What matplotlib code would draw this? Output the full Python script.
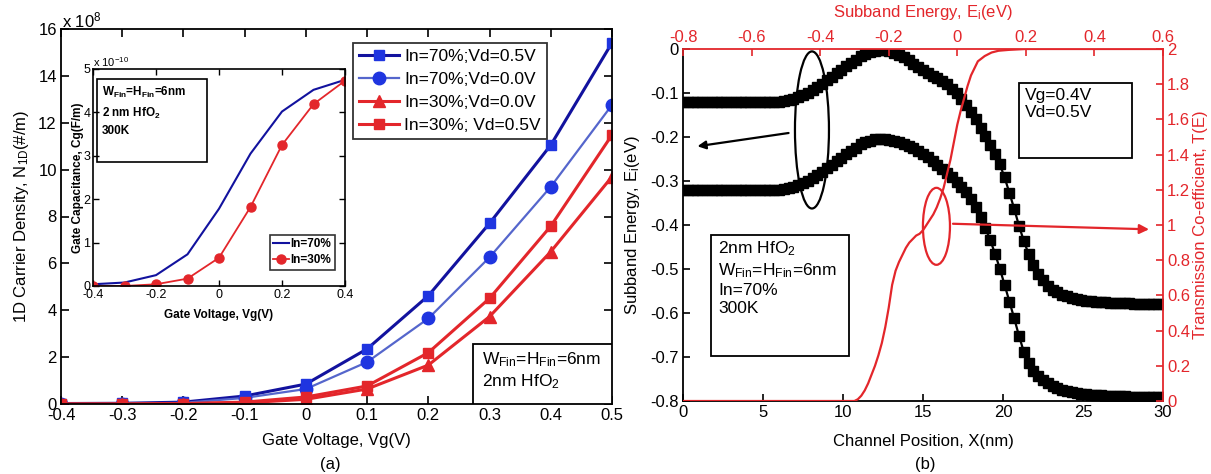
import numpy as np
import matplotlib
matplotlib.use('Agg')
import matplotlib.pyplot as plt
from matplotlib.patches import Ellipse, Rectangle

plt.rcParams['font.family'] = ['Liberation Sans', 'DejaVu Sans']
plt.rcParams['mathtext.fontset'] = 'custom'
plt.rcParams['mathtext.rm'] = 'Liberation Sans'
plt.rcParams['mathtext.it'] = 'Liberation Sans:italic'
plt.rcParams['mathtext.bf'] = 'Liberation Sans:bold'

# ---------------- (a) data ----------------
vg = [-0.4, -0.3, -0.2, -0.1, 0.0, 0.1, 0.2, 0.3, 0.4, 0.5]
n_in70_vd05 = [0.02, 0.03, 0.08, 0.34, 0.85, 2.35, 4.62, 7.71, 11.05, 15.41]
n_in70_vd00 = [0.01, 0.02, 0.05, 0.26, 0.64, 1.79, 3.65, 6.26, 9.27, 12.76]
n_in30_vd00 = [0.0, 0.0, 0.01, 0.05, 0.20, 0.64, 1.66, 3.73, 6.50, 9.70]
n_in30_vd05 = [0.0, 0.0, 0.02, 0.08, 0.30, 0.77, 2.19, 4.51, 7.59, 11.48]
labels_a = ['In=70%;Vd=0.5V', 'In=70%;Vd=0.0V', 'In=30%;Vd=0.0V', 'In=30%; Vd=0.5V']

# inset
vg_in = [-0.4, -0.3, -0.2, -0.1, 0.0, 0.1, 0.2, 0.3, 0.4]
cg_in70 = [0.04, 0.08, 0.25, 0.73, 1.78, 3.05, 4.02, 4.52, 4.75]
cg_in30 = [0.0, 0.0, 0.04, 0.17, 0.65, 1.82, 3.25, 4.19, 4.73]

# ---------------- (b) data ----------------
xpos = np.round(np.arange(101) * 0.3, 1)
e_upper = [-0.120] * 21 + [
    -0.119, -0.117, -0.114, -0.110, -0.105, -0.100, -0.094, -0.087, -0.079, -0.071,
    -0.063, -0.055, -0.047, -0.039, -0.031, -0.024, -0.017, -0.011, -0.007, -0.004,
    -0.003, -0.003, -0.005, -0.008, -0.013, -0.019, -0.026, -0.034, -0.041, -0.048,
    -0.055, -0.061, -0.067, -0.073, -0.080, -0.090, -0.101, -0.113, -0.127, -0.143,
    -0.160, -0.179, -0.198, -0.218, -0.238, -0.262, -0.292, -0.327, -0.363, -0.402,
    -0.436, -0.466, -0.492, -0.511, -0.526, -0.538, -0.547, -0.553, -0.558, -0.562,
    -0.565, -0.568, -0.570, -0.572, -0.573, -0.574, -0.575, -0.576, -0.577, -0.577,
    -0.578, -0.578, -0.578, -0.579, -0.579, -0.579, -0.579, -0.580, -0.580, -0.580]
e_lower = [-0.320] * 21 + [
    -0.319, -0.317, -0.314, -0.310, -0.305, -0.300, -0.294, -0.287, -0.279, -0.271,
    -0.263, -0.255, -0.247, -0.239, -0.231, -0.224, -0.217, -0.212, -0.208, -0.205,
    -0.204, -0.204, -0.206, -0.208, -0.211, -0.215, -0.220, -0.226, -0.232, -0.239,
    -0.246, -0.254, -0.263, -0.272, -0.282, -0.292, -0.303, -0.314, -0.326, -0.340,
    -0.358, -0.381, -0.407, -0.434, -0.465, -0.499, -0.536, -0.574, -0.612, -0.652,
    -0.688, -0.713, -0.731, -0.743, -0.752, -0.759, -0.765, -0.770, -0.774, -0.777,
    -0.780, -0.782, -0.784, -0.785, -0.786, -0.787, -0.787, -0.788, -0.788, -0.789,
    -0.789, -0.789, -0.790, -0.790, -0.790, -0.790, -0.790, -0.790, -0.790, -0.790]
e_sub = [-0.8, -0.30, -0.29, -0.28, -0.27, -0.26, -0.25, -0.24, -0.23, -0.22, -0.21,
         -0.20, -0.19, -0.18, -0.17, -0.16, -0.15, -0.14, -0.13, -0.12, -0.11, -0.10,
         -0.09, -0.08, -0.07, -0.06, -0.05, -0.04, -0.03, -0.02, -0.01, 0.0, 0.01,
         0.02, 0.03, 0.04, 0.05, 0.06, 0.08, 0.10, 0.12, 0.15, 0.20, 0.30, 0.6]
t_e = [0.0, 0.0, 0.01, 0.03, 0.06, 0.10, 0.15, 0.20, 0.26, 0.33, 0.42,
       0.53, 0.66, 0.74, 0.79, 0.83, 0.87, 0.90, 0.92, 0.94, 0.95, 0.97,
       1.00, 1.03, 1.06, 1.10, 1.15, 1.21, 1.29, 1.37, 1.47, 1.57, 1.65,
       1.72, 1.79, 1.85, 1.89, 1.93, 1.96, 1.98, 1.99, 1.995, 2.0, 2.0, 2.0]

W, H = 1211, 474
fig = plt.figure(figsize=(W / 100, H / 100), dpi=100)

RED = '#e3262b'
DBLUE = '#12129e'
MBLUE = '#1f35e0'
LBLUE = '#5566cc'
FS = 12

# ---------------- panel (a) ----------------
axA = fig.add_axes([61 / W, 1 - 404 / H, 551 / W, 375 / H])
axA.plot(vg, n_in70_vd05, '-', color=DBLUE, lw=2.2, marker='s', ms=7.5,
         mfc=MBLUE, mec=MBLUE, label=labels_a[0])
axA.plot(vg, n_in70_vd00, '-', color=LBLUE, lw=1.6, marker='o', ms=9,
         mfc=MBLUE, mec=MBLUE, label=labels_a[1])
axA.plot(vg, n_in30_vd00, '-', color=RED, lw=2.2, marker='^', ms=8.5,
         mfc=RED, mec=RED, label=labels_a[2])
axA.plot(vg, n_in30_vd05, '-', color=RED, lw=2.2, marker='s', ms=6.5,
         mfc=RED, mec=RED, label=labels_a[3])
axA.set_xlim(-0.4, 0.5)
axA.set_ylim(0, 16)
axA.set_xticks(vg)
axA.set_xticklabels(['-0.4', '-0.3', '-0.2', '-0.1', '0', '0.1', '0.2', '0.3', '0.4', '0.5'])
axA.set_yticks(range(0, 17, 2))
axA.set_yticklabels([str(v) for v in range(0, 17, 2)])
axA.tick_params(direction='in', length=6, width=1.2, top=True, right=True,
                labelsize=FS, pad=3)
for s in axA.spines.values():
    s.set_linewidth(1.3)
axA.set_xlabel('Gate Voltage, Vg(V)', fontsize=FS)
axA.xaxis.set_label_coords(0.5, -0.078)
axA.set_ylabel(r'1D Carrier Density, N$_{\mathrm{1D}}$(#/m)', fontsize=FS)
axA.yaxis.set_label_coords((31 - 61) / 551, 0.5)
fig.text(62 / W, 1 - 20 / H, r'x 10$^{8}$', fontsize=FS, va='center', ha='left')
fig.text(330 / W, 1 - 464 / H, '(a)', fontsize=FS, ha='center', va='center')

leg = axA.legend(loc='upper left', bbox_to_anchor=((353 - 61) / 551, (404 - 43) / 375),
                 fontsize=12.5, frameon=True, fancybox=False, edgecolor='black',
                 borderpad=0.35, labelspacing=0.45, handlelength=2.3,
                 handletextpad=0.3, borderaxespad=0.0)
leg.get_frame().set_linewidth(1.3)

axA.add_patch(Rectangle(((473 - 61) / 551, 0), (612 - 473) / 551, (404 - 344) / 375,
                        transform=axA.transAxes, fill=True, facecolor='white',
                        edgecolor='black', lw=1.3, zorder=4))
axA.text((482 - 61) / 551, (404 - 350) / 375,
         r'W$_{\mathrm{Fin}}$=H$_{\mathrm{Fin}}$=6nm' + '\n' + r'2nm HfO$_{\mathrm{2}}$',
         transform=axA.transAxes, fontsize=12.5, va='top', ha='left', zorder=5,
         linespacing=1.25)

# ---------------- inset ----------------
axI = fig.add_axes([93 / W, 1 - 286 / H, 252 / W, 217 / H])
axI.plot(vg_in, cg_in70, '-', color=DBLUE, lw=1.5, label='In=70%')
axI.plot(vg_in, cg_in30, '-', color=RED, lw=1.3, marker='o', ms=6.5,
         mfc=RED, mec=RED, label='In=30%')
axI.set_xlim(-0.4, 0.4)
axI.set_ylim(0, 5)
axI.set_xticks([-0.4, -0.2, 0, 0.2, 0.4])
axI.set_xticklabels(['-0.4', '-0.2', '0', '0.2', '0.4'])
axI.set_yticks(range(6))
axI.set_yticklabels([str(v) for v in range(6)])
axI.tick_params(direction='in', length=4, width=1.0, top=True, right=True,
                labelsize=9, pad=2)
for s in axI.spines.values():
    s.set_linewidth(1.2)
axI.set_xlabel('Gate Voltage, Vg(V)', fontsize=8.5, fontweight='bold')
axI.xaxis.set_label_coords(0.5, -0.105)
axI.set_ylabel('Gate Capacitance, Cg(F/m)', fontsize=8.5, fontweight='bold')
axI.yaxis.set_label_coords(-0.035, 0.5)
fig.text(93 / W, 1 - 62 / H, r'x 10$^{-10}$', fontsize=8, va='center', ha='left')
legI = axI.legend(loc='lower left', bbox_to_anchor=(0.702, 0.074),
                  prop={'size': 8.5, 'weight': 'bold'}, frameon=True, fancybox=False,
                  edgecolor='black', borderpad=0.3, labelspacing=0.35,
                  handlelength=1.3, handletextpad=0.15, borderaxespad=0.0)
legI.get_frame().set_linewidth(1.2)
axI.add_patch(Rectangle((0.016, 0.571), 0.436, 0.383, transform=axI.transAxes,
                        fill=False, edgecolor='black', lw=1.2))
axI.text(0.035, 0.925,
         r'W$_{\mathbf{Fin}}$=H$_{\mathbf{Fin}}$=6nm' + '\n' + r'2 nm HfO$_{\mathbf{2}}$'
         + '\n' + '300K', transform=axI.transAxes, fontsize=8.5, fontweight='bold',
         va='top', ha='left', linespacing=1.5)

# ---------------- panel (b) ----------------
pos = [683 / W, 1 - 401 / H, 480 / W, 352 / H]
axB = fig.add_axes(pos)
axB.plot(xpos, e_upper, '-', color='black', lw=1.6, marker='s', ms=6.8,
         mfc='black', mec='black')
axB.plot(xpos, e_lower, '-', color='black', lw=1.6, marker='s', ms=6.8,
         mfc='black', mec='black')
axB.set_xlim(0, 30)
axB.set_ylim(-0.8, 0)
axB.set_xticks(range(0, 31, 5))
axB.set_xticklabels([str(v) for v in range(0, 31, 5)])
yt = [0, -0.1, -0.2, -0.3, -0.4, -0.5, -0.6, -0.7, -0.8]
axB.set_yticks(yt)
axB.set_yticklabels(['0'] + ['%.1f' % v for v in yt[1:]])
axB.tick_params(direction='in', length=5, width=1.2, labelsize=FS, pad=3)
axB.spines['top'].set_visible(False)
axB.spines['right'].set_visible(False)
for k in ['left', 'bottom']:
    axB.spines[k].set_linewidth(1.3)
axB.set_xlabel('Channel Position, X(nm)', fontsize=FS)
axB.xaxis.set_label_coords(0.5, -0.093)
axB.set_ylabel(r'Subband Energy, E$_{\mathrm{i}}$(eV)', fontsize=FS)
axB.yaxis.set_label_coords(-0.085, 0.5)
fig.text(925 / W, 1 - 465 / H, '(b)', fontsize=FS, ha='center', va='center')

# annotations on (b)
axB.add_patch(Ellipse((8.06, -0.184), 2.125, 0.357, fill=False, edgecolor='black',
                      lw=1.6, zorder=5))
axB.annotate('', xy=(0.73, -0.222), xytext=(6.77, -0.190),
             arrowprops=dict(arrowstyle='-|>', color='black', lw=1.6,
                             mutation_scale=12), zorder=5)
axB.add_patch(Ellipse((15.84, -0.403), 1.69, 0.175, fill=False, edgecolor=RED,
                      lw=1.6, zorder=5))
axB.annotate('', xy=(29.3, -0.41), xytext=(16.7, -0.397),
             arrowprops=dict(arrowstyle='-|>', color=RED, lw=1.6,
                             mutation_scale=14), zorder=5)
axB.add_patch(Rectangle((21.0, -0.248), 7.06, 0.171, facecolor='white',
                        edgecolor='black', lw=1.3, zorder=6))
axB.text(21.4, -0.088, 'Vg=0.4V\nVd=0.5V', fontsize=12.5, va='top', ha='left',
         zorder=7, linespacing=1.2)
axB.add_patch(Rectangle((1.73, -0.698), 8.67, 0.275, facecolor='white',
                        edgecolor='black', lw=1.3, zorder=6))
axB.text(2.2, -0.432,
         r'2nm HfO$_{\mathrm{2}}$' + '\n' + r'W$_{\mathrm{Fin}}$=H$_{\mathrm{Fin}}$=6nm'
         + '\n' + 'In=70%' + '\n' + '300K', fontsize=12.5, va='top', ha='left',
         zorder=7, linespacing=1.25)

# red twin axes (top / right)
axR = fig.add_axes(pos, facecolor='none')
axR.plot(e_sub, t_e, '-', color=RED, lw=1.6)
axR.set_xlim(-0.8, 0.6)
axR.set_ylim(0, 2)
axR.xaxis.tick_top()
axR.xaxis.set_label_position('top')
axR.yaxis.tick_right()
axR.yaxis.set_label_position('right')
xt = [-0.8, -0.6, -0.4, -0.2, 0, 0.2, 0.4, 0.6]
axR.set_xticks(xt)
axR.set_xticklabels(['%.1f' % v if v != 0 else '0' for v in xt])
tt = [0, 0.2, 0.4, 0.6, 0.8, 1.0, 1.2, 1.4, 1.6, 1.8, 2.0]
axR.set_yticks(tt)
axR.set_yticklabels(['0', '0.2', '0.4', '0.6', '0.8', '1', '1.2', '1.4', '1.6', '1.8', '2'])
axR.tick_params(direction='in', length=5, width=1.2, labelsize=FS, colors=RED, pad=3)
axR.spines['left'].set_visible(False)
axR.spines['bottom'].set_visible(False)
for k in ['top', 'right']:
    axR.spines[k].set_color(RED)
    axR.spines[k].set_linewidth(1.3)
axR.set_xlabel(r'Subband Energy, E$_{\mathrm{i}}$(eV)', fontsize=FS, color=RED)
axR.xaxis.set_label_coords(0.5, 1.09)
axR.set_ylabel('Transmission Co-efficient, T(E)', fontsize=FS, color=RED)
axR.yaxis.set_label_coords(1.062, 0.5)

fig.savefig('out.png', dpi=100)
